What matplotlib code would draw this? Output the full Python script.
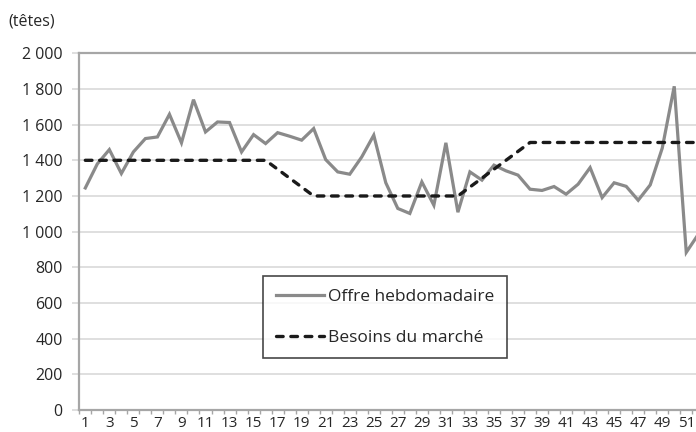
import numpy as np
import matplotlib.pyplot as plt
from matplotlib.ticker import FuncFormatter

plt.rcParams['font.family'] = ['Open Sans', 'DejaVu Sans']

# Données
semaines = list(range(1, 53))
offre = [1245, 1380, 1460, 1326, 1447, 1522, 1531, 1658, 1498, 1740,
         1559, 1615, 1612, 1447, 1544, 1494, 1555, 1535, 1513, 1578,
         1404, 1335, 1322, 1419, 1541, 1274, 1130, 1102, 1279, 1148,
         1498, 1109, 1335, 1289, 1373, 1341, 1317, 1238, 1231, 1253,
         1210, 1266, 1359, 1191, 1274, 1254, 1176, 1262, 1468, 1815,
         884, 985]
besoins = [1400, 1400, 1400, 1400, 1400, 1400, 1400, 1400, 1400, 1400,
           1400, 1400, 1400, 1400, 1400, 1400, 1350, 1300, 1250, 1200,
           1200, 1200, 1200, 1200, 1200, 1200, 1200, 1200, 1200, 1200,
           1200, 1200, 1250, 1300, 1350, 1400, 1450, 1500, 1500, 1500,
           1500, 1500, 1500, 1500, 1500, 1500, 1500, 1500, 1500, 1500,
           1500, 1500]
xticks = list(range(1, 53, 2))
yticks = list(range(0, 2001, 200))

txt = '#262626'
axe = '#a6a6a6'
grille = '#d9d9d9'
fs = 11.5

fig = plt.figure(figsize=(6.96, 4.32), dpi=100)
ax = fig.add_axes([79.3/696, 22/432, 625/696, 356.7/432])

ax.plot(semaines, offre, color='#8a8a8a', lw=2.3, solid_joinstyle='miter',
        label='Offre hebdomadaire', zorder=3)
l2, = ax.plot(semaines, besoins, color='#1a1a1a', lw=2.4,
              dash_capstyle='round', label='Besoins du marché', zorder=4)
l2.set_dashes([2.0, 2.3])

ax.set_xlim(0.5, 52.5)
ax.set_ylim(0, 2000)

ax.set_xticks(xticks)
ax.set_xticklabels([str(s) for s in xticks])
ax.set_xticks(np.arange(0.5, 53, 1), minor=True)
ax.tick_params(axis='x', which='major', length=0, pad=4, labelsize=fs - 0.5, labelcolor=txt)
ax.tick_params(axis='x', which='minor', length=3, width=1, color=axe)

ax.set_yticks(yticks)
ax.yaxis.set_major_formatter(FuncFormatter(lambda v, p: f'{int(v):,}'.replace(',', ' ')))
ax.tick_params(axis='y', length=5, width=1.2, color=grille, pad=7, labelsize=fs, labelcolor=txt)

ax.grid(axis='y', color=grille, lw=1.2)
ax.set_axisbelow(True)

ax.spines['right'].set_visible(False)
for s in ['left', 'bottom', 'top']:
    ax.spines[s].set_color(axe)
    ax.spines[s].set_linewidth(1.6)

fig.text(8/696, 1 - 21/432, '(têtes)', fontsize=fs, color=txt, va='center', ha='left')

leg = ax.legend(loc='upper left', bbox_to_anchor=(263.3/696, 1 - 276/432),
                bbox_transform=fig.transFigure, frameon=True, fancybox=False,
                fontsize=12.5, handlelength=2.75, handletextpad=0.28,
                labelspacing=1.45, borderpad=0.72, borderaxespad=0)
leg.get_frame().set_edgecolor('#1a1a1a')
leg.get_frame().set_linewidth(1.2)
for t in leg.get_texts():
    t.set_color(txt)

fig.savefig('out.png', dpi=100)
